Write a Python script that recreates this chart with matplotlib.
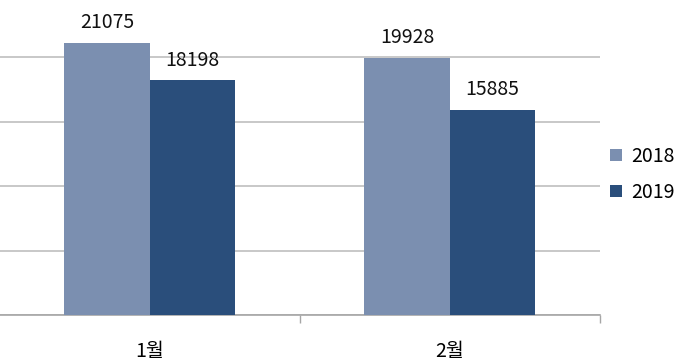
import numpy as np
import matplotlib.pyplot as plt

plt.rcParams['font.family'] = ['Noto Sans CJK KR', 'DejaVu Sans']

categories = ['1월', '2월']
series_names = ['2018', '2019']
values_2018 = [21075, 19928]
values_2019 = [18198, 15885]
colors = ['#7b8fb0', '#2a4e7b']

fig = plt.figure(figsize=(6.84, 3.63), dpi=100)
ax = fig.add_axes([0.0, 0.132, 0.877, 0.853])

x = np.arange(len(categories))
w = 0.285
for i, (name, vals) in enumerate(zip(series_names, [values_2018, values_2019])):
    pos = x + (i - 0.5) * w
    ax.bar(pos, vals, width=w, color=colors[i], label=name, zorder=3)
    for p, v in zip(pos, vals):
        ax.annotate(str(v), (p, v), xytext=(0, 7), textcoords='offset points',
                    ha='center', va='bottom', fontsize=14, color='#111111',
                    fontweight='light')

ax.set_xlim(-0.5, 1.5)
ax.set_ylim(0, 24000)
ax.set_yticks([0, 5000, 10000, 15000, 20000])
ax.yaxis.grid(True, color='#bfbfbf', linewidth=1.2, zorder=0)
ax.tick_params(axis='y', left=False, labelleft=False)
ax.set_xticks([0.5, 1.5], minor=False)
ax.set_xticklabels([])
ax.set_xticks(x, minor=True)
ax.set_xticklabels(categories, minor=True, fontsize=14, fontweight='light')
ax.tick_params(axis='x', which='major', length=6, color='#a6a6a6', width=1)
ax.tick_params(axis='x', which='minor', length=0, pad=19)
for s in ['top', 'right', 'left']:
    ax.spines[s].set_visible(False)
ax.spines['bottom'].set_color('#a6a6a6')
ax.spines['bottom'].set_linewidth(1.2)

fig.legend(loc='center left', bbox_to_anchor=(0.866, 0.52), frameon=False,
           prop={'size': 14, 'weight': 'light'}, handlelength=0.6,
           handleheight=0.6, handletextpad=0.5, labelspacing=0.75)

fig.savefig('out.png', dpi=100)
